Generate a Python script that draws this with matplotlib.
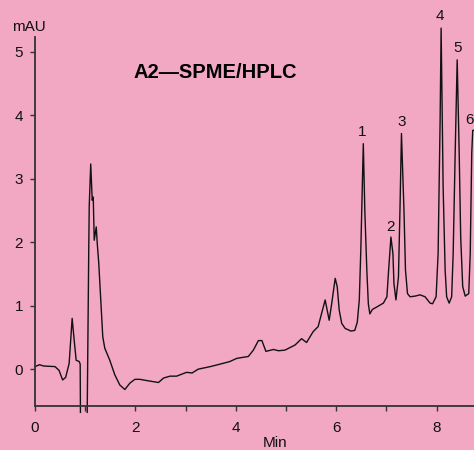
import numpy as np
import matplotlib
matplotlib.use("Agg")
import matplotlib.pyplot as plt

plt.rcParams['font.family'] = ['Liberation Sans', 'DejaVu Sans']

# Chromatogram trace (time in min, signal in mAU)
time_min = [0.00, 0.09, 0.17, 0.40, 0.48, 0.55, 0.61, 0.68, 0.74, 0.78, 0.82, 0.88, 0.90, 0.905,
            np.nan,
            1.04, 1.07, 1.08, 1.11, 1.14, 1.16, 1.18, 1.22, 1.24, 1.27, 1.31, 1.35, 1.39, 1.49,
            1.59, 1.69, 1.79, 1.89, 1.99, 2.09, 2.23, 2.46, 2.56, 2.69, 2.82, 3.02, 3.13, 3.25,
            3.49, 3.69, 3.88, 4.02, 4.25, 4.35, 4.45, 4.52, 4.60, 4.75, 4.85, 4.98, 5.18, 5.31,
            5.41, 5.54, 5.64, 5.71, 5.78, 5.82, 5.86, 5.91, 5.98, 6.02, 6.06, 6.11, 6.18, 6.24,
            6.29, 6.37, 6.42, 6.46, 6.49, 6.54, 6.57, 6.61, 6.64, 6.67, 6.72, 6.81, 6.94, 7.01,
            7.04, 7.09, 7.13, 7.15, 7.19, 7.24, 7.27, 7.30, 7.35, 7.38, 7.42, 7.47, 7.57, 7.67,
            7.77, 7.87, 7.92, 7.99, 8.03, 8.07, 8.09, 8.13, 8.17, 8.20, 8.25, 8.30, 8.33, 8.37,
            8.41, 8.45, 8.48, 8.52, 8.57, 8.64, 8.67, 8.70, 8.72, 8.76]
signal_mau = [0.04, 0.07, 0.05, 0.04, -0.02, -0.17, -0.13, 0.09, 0.80, 0.46, 0.14, 0.12, 0.08, -0.68,
              np.nan,
              -0.68, 1.83, 2.56, 3.23, 2.66, 2.71, 2.03, 2.24, 1.98, 1.67, 1.09, 0.51, 0.33, 0.14,
              -0.09, -0.25, -0.32, -0.22, -0.16, -0.16, -0.18, -0.21, -0.14, -0.11, -0.11, -0.05, -0.06, 0.00,
              0.04, 0.08, 0.12, 0.17, 0.20, 0.30, 0.45, 0.45, 0.28, 0.31, 0.29, 0.30, 0.38, 0.48,
              0.42, 0.59, 0.67, 0.88, 1.09, 0.93, 0.77, 1.03, 1.43, 1.30, 0.93, 0.72, 0.64, 0.62,
              0.60, 0.61, 0.74, 1.09, 1.87, 3.55, 2.50, 1.56, 1.03, 0.87, 0.94, 0.98, 1.04, 1.14,
              1.51, 2.08, 1.82, 1.35, 1.09, 1.45, 2.50, 3.71, 2.50, 1.56, 1.19, 1.14, 1.15, 1.17,
              1.14, 1.04, 1.03, 1.14, 1.82, 3.92, 5.37, 2.87, 1.56, 1.14, 1.04, 1.14, 1.82, 3.40,
              4.87, 3.40, 2.08, 1.30, 1.15, 1.19, 1.82, 3.40, 3.76, 3.76]

peak_labels = ['1', '2', '3', '4', '5', '6']
peak_label_t = [6.52, 7.09, 7.31, 8.07, 8.41, 8.745]
peak_label_v = [3.74, 2.24, 3.89, 5.56, 5.06, 3.92]
peak_label_ha = ['center', 'center', 'center', 'center', 'center', 'right']

x_ticks = [0, 1, 2, 3, 4, 5, 6, 7, 8]
x_tick_labels = ['0', '', '2', '', '4', '', '6', '', '8']
y_ticks = [0, 1, 2, 3, 4, 5]

bg = '#F2A7C3'
W, H = 474, 450
fig = plt.figure(figsize=(W / 100, H / 100), dpi=100, facecolor=bg)
ax = fig.add_axes([35 / W, 44 / H, 439 / W, 369 / H], facecolor=bg)

ax.plot(time_min, signal_mau, color='#111111', lw=1.0, clip_on=False)

ax.set_xlim(0, 8.745)
ax.set_ylim(-0.58, 5.23)
for s in ['top', 'right']:
    ax.spines[s].set_visible(False)
for s in ['left', 'bottom']:
    ax.spines[s].set_color('#333333')
    ax.spines[s].set_linewidth(1.3)

ax.set_xticks(x_ticks)
ax.set_xticklabels(x_tick_labels)
ax.set_yticks(y_ticks)
ax.tick_params(direction='out', length=3.5, width=1.0, color='#333333',
               labelsize=11, labelcolor='#111111', pad=5)
ax.tick_params(axis='x', pad=7)

for lab, t, v, ha in zip(peak_labels, peak_label_t, peak_label_v, peak_label_ha):
    ax.text(t, v, lab, ha=ha, va='center', fontsize=11, color='#111111', clip_on=False)

fig.text(12 / W, 1 - 27 / H, 'mAU', ha='left', va='center', fontsize=11, color='#111111')
fig.text(275 / W, 1 - 443 / H, 'Min', ha='center', va='center', fontsize=11, color='#111111')
fig.text(215 / W, 1 - 73 / H, 'A2\u2014SPME/HPLC', ha='center', va='center', fontsize=14.5,
         fontweight='bold', color='#000000')

fig.savefig('out.png', dpi=100, facecolor=bg)
